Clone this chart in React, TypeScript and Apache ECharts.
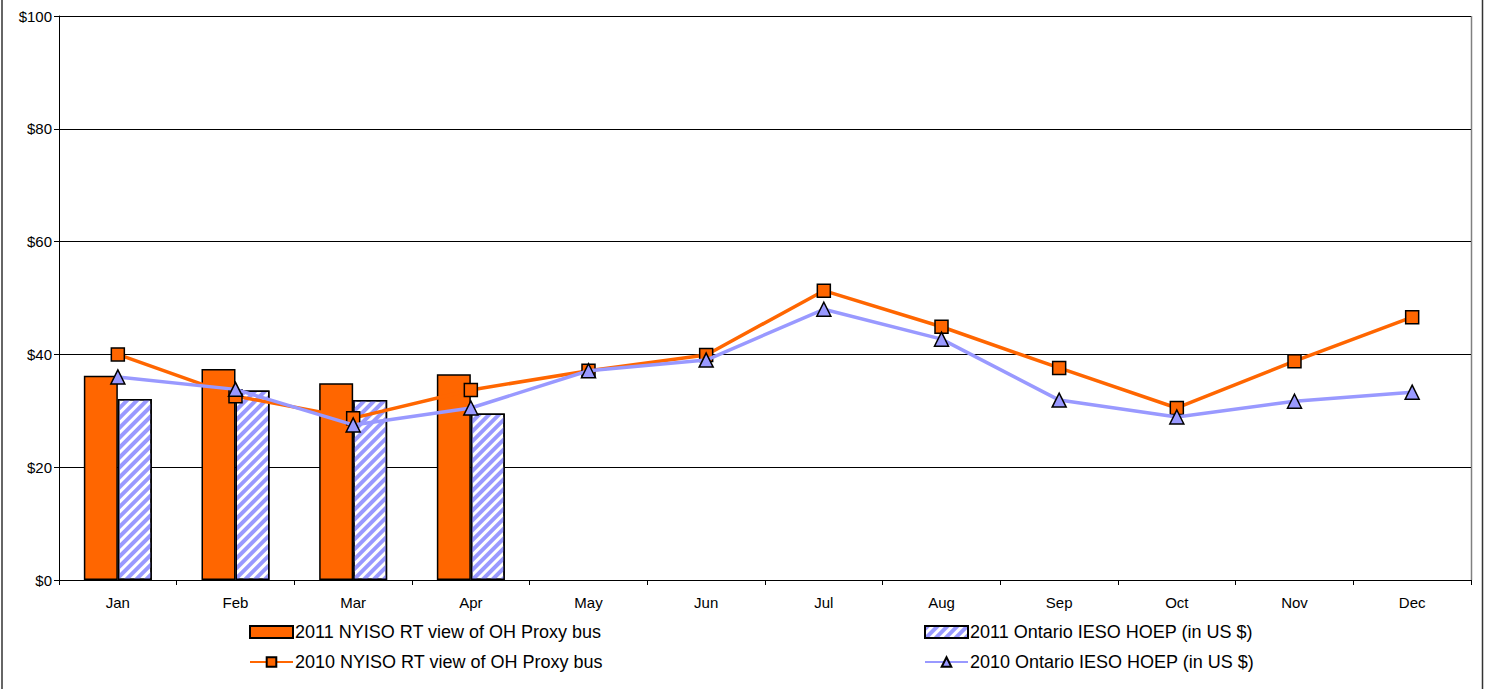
import React, { useEffect, useRef } from "react";
import * as echarts from "echarts";

const months = ["Jan", "Feb", "Mar", "Apr", "May", "Jun", "Jul", "Aug", "Sep", "Oct", "Nov", "Dec"];
const nyiso2011 = [36.2, 37.4, 34.9, 36.5, null, null, null, null, null, null, null, null];
const ieso2011 = [32.1, 33.6, 31.9, 29.5, null, null, null, null, null, null, null, null];
const nyiso2010 = [40.0, 32.6, 28.7, 33.7, 37.1, 39.9, 51.3, 44.9, 37.6, 30.5, 38.8, 46.6];
const ieso2010 = [36.0, 33.8, 27.5, 30.5, 37.1, 39.0, 48.0, 42.7, 31.9, 28.9, 31.7, 33.3];
const names = [
  "2011 NYISO RT view of OH Proxy bus",
  "2011 Ontario IESO HOEP (in US $)",
  "2010 NYISO RT view of OH Proxy bus",
  "2010 Ontario IESO HOEP (in US $)",
];

const FONT = "Liberation Sans, Arial, sans-serif";

export default function App() {
  const ref = useRef<HTMLDivElement>(null);
  useEffect(() => {
    if (!ref.current) return;
    const chart = echarts.init(ref.current, null, { renderer: "svg" });
    const legendBase = {
      orient: "vertical",
      top: 623,
      padding: 0,
      itemWidth: 43,
      itemHeight: 12,
      itemGap: 12,
      textStyle: { fontSize: 18, color: "#000", fontFamily: FONT, padding: [0, 0, 0, -3] },
    };
    chart.setOption({
      animation: false,
      backgroundColor: "#ffffff",
      textStyle: { fontFamily: FONT },
      grid: { left: 59, right: 14, top: 16, bottom: 109, containLabel: false },
      legend: [
        {
          ...legendBase,
          left: 249,
          data: [{ name: names[0], icon: "rect" }, { name: names[2] }],
        },
        {
          ...legendBase,
          left: 924,
          data: [{ name: names[1], icon: "rect" }, { name: names[3] }],
        },
      ],
      xAxis: {
        type: "category",
        data: months,
        boundaryGap: true,
        axisLine: { show: true, lineStyle: { color: "#000", width: 1 } },
        axisTick: { show: true, interval: 0, length: 5, lineStyle: { color: "#000" } },
        axisLabel: { interval: 0, color: "#000", fontSize: 15, margin: 15, fontFamily: FONT },
        splitLine: { show: false },
      },
      yAxis: {
        type: "value",
        min: 0,
        max: 100,
        interval: 20,
        axisLine: { show: true, lineStyle: { color: "#000", width: 1 } },
        axisTick: { show: true, length: 5, lineStyle: { color: "#000" } },
        axisLabel: { color: "#000", fontSize: 15, margin: 7, fontFamily: FONT, formatter: (v: number) => "$" + v },
        splitLine: { show: true, lineStyle: { color: "#000", width: 1 } },
      },
      graphic: [
        { type: "line", shape: { x1: 1471.5, y1: 16, x2: 1471.5, y2: 580 }, style: { stroke: "#808080", lineWidth: 1.5 } },
        { type: "line", shape: { x1: 2, y1: 0, x2: 2, y2: 689 }, style: { stroke: "#333", lineWidth: 1.5 } },
        { type: "line", shape: { x1: 1482.5, y1: 0, x2: 1482.5, y2: 689 }, style: { stroke: "#333", lineWidth: 1.5 } },
      ],
      series: [
        {
          name: names[0],
          type: "bar",
          data: nyiso2011,
          barWidth: 34,
          barGap: "0%",
          itemStyle: { color: "#FF6600", borderColor: "#000", borderWidth: 1.5 },
        },
        {
          name: names[1],
          type: "bar",
          data: ieso2011,
          barWidth: 34,
          barGap: "0%",
          itemStyle: {
            color: "#ffffff",
            borderColor: "#000",
            borderWidth: 1.5,
            decal: {
              symbol: "rect",
              color: "#9999FF",
              dashArrayX: [1, 0],
              dashArrayY: [4, 3],
              rotation: -Math.PI / 4,
              symbolSize: 1,
            },
          },
        },
        {
          name: names[2],
          type: "line",
          data: nyiso2010,
          symbol: "rect",
          symbolSize: 13,
          lineStyle: { color: "#FF6600", width: 3.5 },
          itemStyle: { color: "#FF6600", borderColor: "#000", borderWidth: 1.5 },
          z: 3,
        },
        {
          name: names[3],
          type: "line",
          data: ieso2010,
          symbol: "triangle",
          symbolSize: 14,
          lineStyle: { color: "#9999FF", width: 3.5 },
          itemStyle: { color: "#9999FF", borderColor: "#000", borderWidth: 1.5 },
          z: 4,
        },
      ],
    });
    return () => chart.dispose();
  }, []);
  return (
    <div
      ref={ref}
      style={{ position: "absolute", left: 0, top: 0, width: 1485, height: 689 }}
    />
  );
}
